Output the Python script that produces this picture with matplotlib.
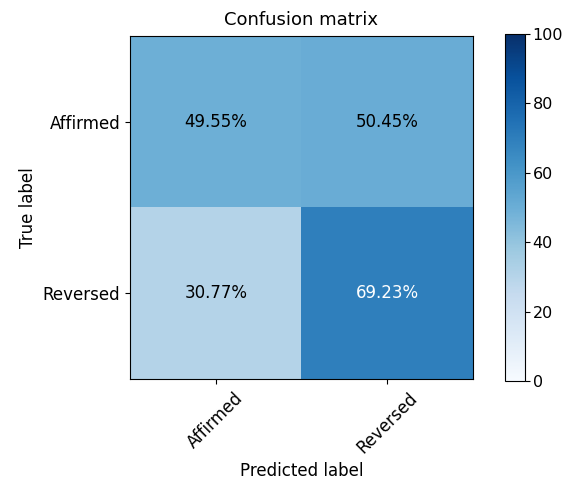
import numpy as np
import matplotlib.pyplot as plt

# Data
classes = ['Affirmed', 'Reversed']
cm = np.array([[49.55, 50.45],
               [30.77, 69.23]])
text_colors = [['black', 'black'], ['black', 'white']]

fig = plt.figure(figsize=(5.65, 4.86), dpi=100)
ax = fig.add_axes([0.230, 0.216, 0.607, 0.714])
cax = fig.add_axes([0.894, 0.216, 0.035, 0.714])

im = ax.imshow(cm, interpolation='nearest', cmap=plt.cm.Blues, vmin=0, vmax=100)
ax.set_title('Confusion matrix', fontsize=13, pad=8)
cb = fig.colorbar(im, cax=cax)
cb.set_ticks([0, 20, 40, 60, 80, 100])
cb.ax.tick_params(labelsize=11.5, pad=2)

ticks = np.arange(len(classes))
ax.set_xticks(ticks)
ax.set_xticklabels(classes, rotation=45, fontsize=12)
ax.set_yticks(ticks)
ax.set_yticklabels(classes, fontsize=12)

for i in range(cm.shape[0]):
    for j in range(cm.shape[1]):
        ax.text(j, i, '%.2f%%' % cm[i, j], ha='center', va='center',
                color=text_colors[i][j], fontsize=12)

ax.set_ylabel('True label', fontsize=12)
ax.set_xlabel('Predicted label', fontsize=12)

fig.savefig('out.png')
